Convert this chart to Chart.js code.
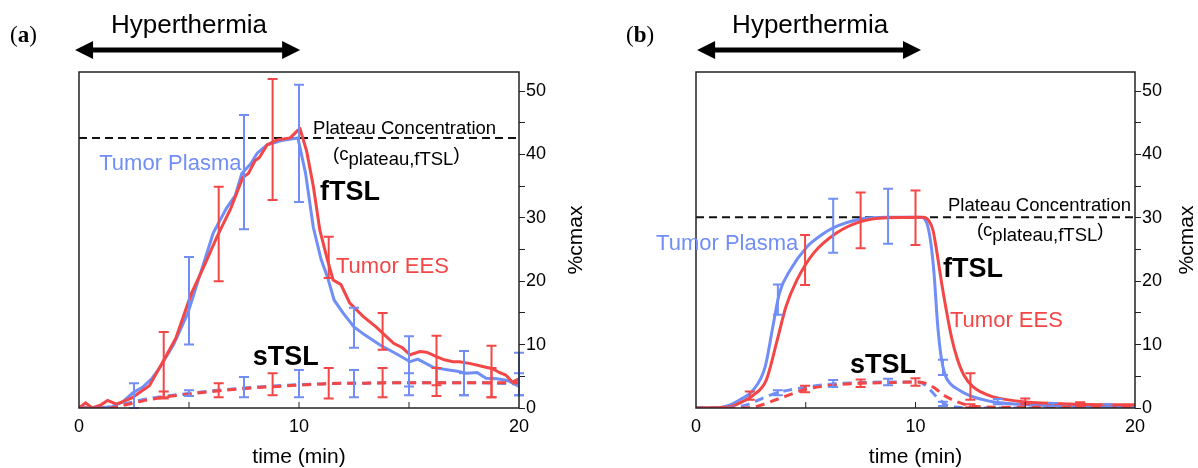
<!DOCTYPE html>
<html>
<head>
<meta charset="utf-8">
<script src="https://cdn.jsdelivr.net/npm/chart.js@4.4.1/dist/chart.umd.min.js"></script>
<style>
html, body { margin: 0; padding: 0; background: #fff; }
#wrap { position: relative; width: 1198px; height: 468px; overflow: hidden; }
.pane { position: absolute; top: 0; height: 468px; }
</style>
</head>
<body>
<div id="wrap">
  <div class="pane" style="left:0;width:600px"><canvas id="chartA" width="600" height="468"></canvas></div>
  <div class="pane" style="left:600px;width:598px"><canvas id="chartB" width="598" height="468"></canvas></div>
</div>
<script>
const BLUE = 'rgb(112,142,246)';
const RED = 'rgb(243,70,70)';

// ---------- panel (a) ----------
const tA_plasma = [0, 0.8, 1.5, 2.0, 2.45, 2.9, 3.3, 3.7, 4.3, 4.95, 5.5, 6.1, 6.7, 7.1, 7.4, 7.8, 8.1, 8.55, 9.2, 9.95,
  10.3, 10.65, 11.0, 11.3, 11.6, 12.0, 12.5, 13.0, 13.7, 14.4, 15.05, 15.4, 16.1, 16.8, 17.2, 17.6, 18.1, 18.5, 19.0, 19.5, 19.9, 20];
const fA_plasma = [0, 0, 0.2, 1.0, 2.4, 3.3, 4.6, 6.5, 10, 15, 21, 27.6, 31.5, 33.5, 37, 38.5, 40.2, 41.5, 42.2, 42.6,
  37, 28.5, 23.5, 20.6, 17.0, 15.0, 12.8, 11.5, 9.9, 8.6, 7.3, 7.7, 6.4, 6.0, 5.8, 5.5, 5.6, 4.7, 4.6, 4.3, 3.6, 3.4];
const tA_ees = [0, 0.3, 0.6, 1.0, 1.3, 1.7, 2.0, 2.4, 2.77, 3.2, 3.8, 4.4, 5.1, 5.7, 6.27, 6.9, 7.45, 7.7, 8.0, 8.2, 8.55, 9.0, 9.6, 9.95,
  10.05, 10.35, 10.65, 10.95, 11.3, 11.55, 11.9, 12.3, 12.9, 13.5, 13.9, 14.3, 14.7, 15.05, 15.5, 15.8, 16.2, 16.6, 17.0, 17.3, 17.8, 18.4, 18.8, 19.1, 19.4, 19.7, 20];
const fA_ees = [0, 0.8, 0, 0.5, 1.2, 0.6, 1.0, 1.6, 2.5, 3.5, 7.2, 11, 18, 22.5, 27, 31.5, 36.4, 37, 39, 39.5, 41.5, 42.3, 42.6, 43.8,
  44, 40.5, 35, 28, 23.3, 20.2, 19.5, 16.6, 14.5, 12.8, 11.5, 10.2, 9.5, 8.4, 8.9, 8.8, 8.2, 7.6, 7.3, 7.3, 7.0, 6.5, 6.2, 5.6, 5.2, 4.1, 4.6];
const tA_slow = [0, 1.5, 2, 3, 4, 5, 6, 7, 8, 9, 10, 11, 12, 13, 14, 15, 16, 17, 18, 19, 20];
const sA_plasma = [0, 0, 0.6, 1.4, 1.9, 2.3, 2.7, 3.0, 3.3, 3.5, 3.7, 3.8, 3.9, 3.9, 4.0, 4.0, 4.0, 4.0, 4.0, 3.9, 3.8];
const sA_ees = [0, 0, 0.4, 1.2, 1.8, 2.2, 2.6, 2.9, 3.2, 3.4, 3.6, 3.8, 3.9, 3.9, 4.0, 4.0, 4.0, 4.0, 4.0, 4.0, 4.0];
const plateauA = 42.6;

// error bars (a)
const ebA_fPlasmaX = [2.5, 5, 7.5, 10, 12.5, 15, 17.5, 20];
const ebA_fPlasmaLo = [0, 10, 28.2, 32.5, 9.5, 3.4, 2.0, 2.0];
const ebA_fPlasmaHi = [3.9, 23.8, 46.2, 51, 15.8, 11.3, 9.0, 8.7];
const ebA_fEesX = [3.85, 6.35, 8.8, 11.35, 13.8, 16.25, 18.75];
const ebA_fEesLo = [1.7, 20, 32.8, 20.5, 9.2, 3.6, 1.7];
const ebA_fEesHi = [12, 34.9, 51.9, 27, 15, 11.4, 9.8];
const ebA_sPlasmaX = [5, 7.5, 10, 12.5, 15, 17.5, 20];
const ebA_sPlasmaLo = [1.9, 1.7, 1.7, 1.7, 2.0, 2.0, 2.0];
const ebA_sPlasmaHi = [2.8, 4.9, 6.0, 6.0, 5.5, 5.5, 5.5];
const ebA_sEesX = [3.85, 6.35, 8.8, 11.35, 13.8, 16.25, 18.75];
const ebA_sEesLo = [1.5, 1.7, 2.0, 1.5, 1.7, 1.9, 1.7];
const ebA_sEesHi = [2.6, 3.9, 5.5, 6.3, 6.3, 6.3, 6.3];

// ---------- panel (b) ----------
const tB_plasma = [0, 0.95, 1.5, 2.0, 2.6, 3.15, 3.5, 3.8, 4.3, 5.05, 5.6, 6.25, 7.5, 8.7, 10.2, 10.5, 10.7, 10.85, 11.0, 11.15, 11.35, 11.6, 12.0, 12.5, 13.5, 15.2, 17.5, 20];
const fB_plasma = [0, 0, 0.4, 1.3, 2.8, 6.5, 12.8, 18.1, 21.8, 25.4, 27, 28.4, 29.8, 30.1, 30.1, 29.3, 26, 21, 13.5, 8.5, 5.2, 3.8, 2.8, 1.9, 1.0, 0.5, 0.3, 0.2];
const tB_ees = [0, 1.55, 2.0, 2.6, 3.2, 3.7, 4.1, 4.6, 5.35, 6.4, 7.5, 8.7, 10.35, 10.6, 10.8, 11.0, 11.2, 11.4, 11.65, 11.9, 12.2, 12.6, 13.0, 13.5, 14.9, 17.5, 20];
const fB_ees = [0, 0.2, 0.8, 2.0, 4.4, 10.7, 16, 20.2, 24.4, 27.6, 29.4, 30, 30.1, 29.6, 28, 24, 19.5, 15.5, 11, 7.8, 5.2, 3.4, 2.5, 1.8, 1.0, 0.6, 0.5];
const tB_sPlasma = [0, 1, 2.3, 3.2, 3.8, 5.05, 6.25, 7.5, 8.7, 10.1, 10.3, 10.55, 10.95, 11.4, 11.8, 13, 20];
const sB_plasma = [0, 0, 0.5, 1.8, 2.5, 3.3, 3.8, 4.0, 4.1, 4.1, 3.9, 3.3, 1.8, 0.5, 0.15, 0, 0];
const tB_sEes = [0, 2.0, 2.8, 3.8, 5.05, 6.25, 7.5, 8.7, 10.1, 10.45, 10.8, 11.4, 12.3, 13, 15, 20];
const sB_ees = [0, 0, 0.3, 1.5, 3.0, 3.6, 3.9, 4.0, 4.1, 3.9, 3.3, 1.8, 0.5, 0.2, 0.1, 0.1];
const plateauB = 30.1;

// error bars (b)
const ebB_fPlasmaX = [3.73, 6.25, 8.75, 11.25, 13.75, 16.25, 18.75];
const ebB_fPlasmaLo = [14.7, 24.5, 25.9, 5.2, 0.6, 0.3, 0.2];
const ebB_fPlasmaHi = [19.5, 33, 34.6, 7.6, 1.4, 0.8, 0.6];
const ebB_fEesX = [2.45, 4.97, 7.5, 10.0, 12.5, 15, 17.5];
const ebB_fEesLo = [1.3, 19.4, 25.2, 25.7, 1.3, 0.6, 0.3];
const ebB_fEesHi = [2.6, 27.3, 34, 34.3, 5.5, 1.5, 0.9];
const ebB_sPlasmaX = [3.73, 6.25, 8.75, 11.25];
const ebB_sPlasmaLo = [2.0, 3.3, 3.6, 0.3];
const ebB_sPlasmaHi = [2.8, 4.4, 4.6, 1.0];
const ebB_sEesX = [4.97, 7.5, 10.0, 12.5];
const ebB_sEesLo = [2.5, 3.3, 3.5, 0.1];
const ebB_sEesHi = [3.5, 4.5, 4.7, 0.6];

const FONT = '"Liberation Sans", Arial, Helvetica, sans-serif';
Chart.defaults.font.family = FONT;

function pts(t, v) {
    return t.map((x, i) => ({x: x, y: v[i]}));
}

function line(data, color, dashed, smooth) {
    return {
        data: data,
        borderColor: color,
        borderWidth: 3,
        borderDash: dashed ? [9, 6] : [],
        pointRadius: 0,
        fill: false,
        tension: 0,
        cubicInterpolationMode: smooth ? 'monotone' : 'default'
    };
}

function arrow(c, x0, x1, y) {
    const hl = 18, hw = 9;
    c.lineWidth = 5;
    c.beginPath(); c.moveTo(x0 + hl - 2, y); c.lineTo(x1 - hl + 2, y); c.stroke();
    c.beginPath(); c.moveTo(x0, y); c.lineTo(x0 + hl, y - hw); c.lineTo(x0 + hl, y + hw); c.closePath(); c.fill();
    c.beginPath(); c.moveTo(x1, y); c.lineTo(x1 - hl, y - hw); c.lineTo(x1 - hl, y + hw); c.closePath(); c.fill();
}

function makeChart(id, p) {
    const deco = {
        id: 'deco',
        beforeDatasetsDraw(chart) {
            const c = chart.ctx, a = chart.chartArea;
            const yy = chart.scales.y.getPixelForValue(p.plateau);
            c.save();
            c.strokeStyle = '#111'; c.lineWidth = 2; c.setLineDash([8, 5]);
            c.beginPath(); c.moveTo(a.left, yy); c.lineTo(a.right, yy); c.stroke();
            c.restore();
        },
        afterDatasetsDraw(chart) {
            const c = chart.ctx, a = chart.chartArea, xs = chart.scales.x, ys = chart.scales.y;
            c.save();
            // error bars
            p.errs.forEach(e => {
                c.strokeStyle = e.color; c.lineWidth = 2;
                e.x.forEach((x, i) => {
                    const px = xs.getPixelForValue(x);
                    const lo = ys.getPixelForValue(e.lo[i]), hi = ys.getPixelForValue(e.hi[i]);
                    c.beginPath();
                    c.moveTo(px, lo); c.lineTo(px, hi);
                    c.moveTo(px - 5, lo); c.lineTo(px + 5, lo);
                    c.moveTo(px - 5, hi); c.lineTo(px + 5, hi);
                    c.stroke();
                });
            });
            // frame
            c.strokeStyle = '#222'; c.lineWidth = 1.5;
            c.strokeRect(a.left, a.top, a.right - a.left, a.bottom - a.top);
            // inward x ticks
            c.lineWidth = 1;
            [5, 10, 15].forEach(v => {
                const px = xs.getPixelForValue(v);
                c.beginPath(); c.moveTo(px, a.bottom); c.lineTo(px, a.bottom - 6); c.stroke();
            });
            c.restore();
        },
        afterDraw(chart) {
            const c = chart.ctx, a = chart.chartArea, xs = chart.scales.x, ys = chart.scales.y;
            c.save();
            c.textBaseline = 'alphabetic';
            // notes
            p.notes.forEach(n => {
                c.fillStyle = n.color || '#000';
                c.font = n.font + ' ' + FONT;
                c.textAlign = 'left';
                c.fillText(n.text, xs.getPixelForValue(n.t), ys.getPixelForValue(n.v));
            });
            // (c plateau,fTSL)
            let cx = xs.getPixelForValue(p.sub.t);
            const cy = ys.getPixelForValue(p.sub.v);
            c.fillStyle = '#000';
            c.font = '18.5px ' + FONT;
            c.fillText('(c', cx, cy); cx += c.measureText('(c').width;
            c.fillText('plateau,fTSL', cx, cy + 5); cx += c.measureText('plateau,fTSL').width;
            c.fillText(')', cx, cy);
            // axis titles
            c.font = '21px ' + FONT;
            c.textAlign = 'center';
            c.fillText('time (min)', xs.getPixelForValue(10), 463);
            c.save();
            c.translate(a.right + p.yTitleOff, (a.top + a.bottom) / 2);
            c.rotate(-Math.PI / 2);
            c.textBaseline = 'middle';
            c.fillText('%cmax', 0, 0);
            c.restore();
            // hyperthermia
            c.font = '26px ' + FONT;
            c.fillText('Hyperthermia', xs.getPixelForValue(p.hyper.t), 33);
            c.strokeStyle = '#000'; c.fillStyle = '#000';
            arrow(c, xs.getPixelForValue(p.hyper.from), xs.getPixelForValue(p.hyper.to), 50);
            // panel tag
            c.textAlign = 'left';
            let tx = p.tag.x;
            c.font = '23px "Liberation Serif", serif';
            c.fillText('(', tx, 42); tx += c.measureText('(').width;
            c.font = 'bold 23px "Liberation Serif", serif';
            c.fillText(p.tag.letter, tx, 42); tx += c.measureText(p.tag.letter).width;
            c.font = '23px "Liberation Serif", serif';
            c.fillText(')', tx, 42);
            c.restore();
        }
    };

    return new Chart(document.getElementById(id).getContext('2d'), {
        type: 'line',
        data: {datasets: p.datasets},
        options: {
            responsive: false,
            animation: false,
            events: [],
            layout: {padding: {left: p.padLeft, top: 72, right: 0, bottom: 0}},
            plugins: {legend: {display: false}, tooltip: {enabled: false}},
            scales: {
                x: {
                    type: 'linear', min: 0, max: 20,
                    grid: {display: false, drawTicks: false},
                    border: {display: false},
                    ticks: {
                        stepSize: 5, maxRotation: 0, autoSkip: false, padding: 8,
                        color: '#000', font: {size: 18},
                        callback: v => (v % 10 === 0 ? v : '')
                    },
                    afterFit: s => { s.height = 60; }
                },
                y: {
                    type: 'linear', position: 'right', min: 0, max: 53,
                    grid: {drawOnChartArea: false, drawTicks: true, tickLength: 6, color: '#222', lineWidth: 1},
                    border: {display: false},
                    ticks: {
                        stepSize: 5, includeBounds: false, padding: 1,
                        color: '#000', font: {size: 18},
                        callback: v => (v % 10 === 0 ? v : '')
                    },
                    afterFit: s => { s.width = p.yWidth; }
                }
            }
        },
        plugins: [deco]
    });
}

const chartA = makeChart('chartA', {
    padLeft: 79, yWidth: 81, yTitleOff: 57, plateau: plateauA,
    datasets: [
        line(pts(tA_slow, sA_ees), RED, true),
        line(pts(tA_slow, sA_plasma), BLUE, true),
        line(pts(tA_ees, fA_ees), RED, false),
        line(pts(tA_plasma, fA_plasma), BLUE, false)
    ],
    errs: [
        {color: BLUE, x: ebA_fPlasmaX, lo: ebA_fPlasmaLo, hi: ebA_fPlasmaHi},
        {color: BLUE, x: ebA_sPlasmaX, lo: ebA_sPlasmaLo, hi: ebA_sPlasmaHi},
        {color: RED, x: ebA_fEesX, lo: ebA_fEesLo, hi: ebA_fEesHi},
        {color: RED, x: ebA_sEesX, lo: ebA_sEesLo, hi: ebA_sEesHi}
    ],
    notes: [
        {text: 'Tumor Plasma', t: 0.92, v: 37.5, color: BLUE, font: '22px'},
        {text: 'Plateau Concentration', t: 10.64, v: 43.2, font: '18.5px'},
        {text: 'fTSL', t: 10.95, v: 32.8, font: 'bold 27px'},
        {text: 'Tumor EES', t: 11.68, v: 21.3, color: RED, font: '22px'},
        {text: 'sTSL', t: 7.9, v: 6.8, font: 'bold 27px'}
    ],
    sub: {t: 11.55, v: 39.1},
    hyper: {t: 5, from: -0.18, to: 10.05},
    tag: {x: 10, letter: 'a'}
});

const chartB = makeChart('chartB', {
    padLeft: 96, yWidth: 63, yTitleOff: 52, plateau: plateauB,
    datasets: [
        line(pts(tB_sEes, sB_ees), RED, true, true),
        line(pts(tB_sPlasma, sB_plasma), BLUE, true, true),
        line(pts(tB_ees, fB_ees), RED, false, true),
        line(pts(tB_plasma, fB_plasma), BLUE, false, true)
    ],
    errs: [
        {color: BLUE, x: ebB_fPlasmaX, lo: ebB_fPlasmaLo, hi: ebB_fPlasmaHi},
        {color: BLUE, x: ebB_sPlasmaX, lo: ebB_sPlasmaLo, hi: ebB_sPlasmaHi},
        {color: RED, x: ebB_fEesX, lo: ebB_fEesLo, hi: ebB_fEesHi},
        {color: RED, x: ebB_sEesX, lo: ebB_sEesLo, hi: ebB_sEesHi}
    ],
    notes: [
        {text: 'Tumor Plasma', t: -1.82, v: 25.0, color: BLUE, font: '22px'},
        {text: 'Plateau Concentration', t: 11.48, v: 31.0, font: '18.5px'},
        {text: 'fTSL', t: 11.25, v: 20.6, font: 'bold 27px'},
        {text: 'Tumor EES', t: 11.57, v: 12.7, color: RED, font: '22px'},
        {text: 'sTSL', t: 7.02, v: 5.5, font: 'bold 27px'}
    ],
    sub: {t: 12.8, v: 27.1},
    hyper: {t: 5.2, from: 0.05, to: 10.25},
    tag: {x: 26, letter: 'b'}
});
</script>
</body>
</html>
